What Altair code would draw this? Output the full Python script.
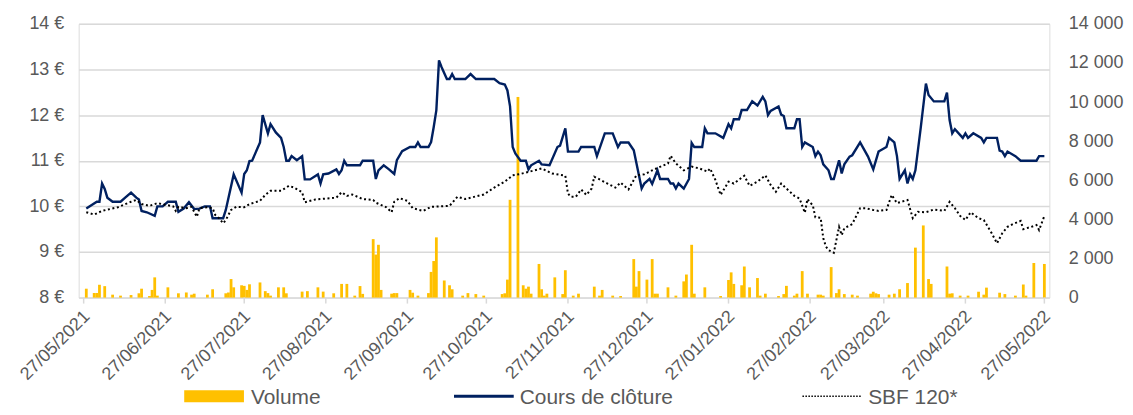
import altair as alt
import pandas as pd

START = "2021-05-27"
END = "2022-05-27"

# Closing price (EUR), day offsets since 27/05/2021
close_day = [1, 5, 6, 7, 8, 9, 11, 14, 16, 18, 20, 21, 22, 24, 27, 28, 30, 32, 35, 36, 38, 40, 42, 44, 46, 48, 49, 52, 53, 54,
             57, 60, 61, 62, 63, 64, 67, 68, 70, 71, 73, 75, 76, 77, 78, 79, 81, 83, 84, 86, 89, 90, 91, 93, 96, 97, 98, 99, 100,
             105, 106, 110, 111, 112, 114, 116, 118, 119, 121, 124, 126, 127, 128, 131, 132, 133, 134, 135, 136, 138, 139, 140,
             141, 145, 147, 149, 156, 158, 160, 161, 162, 163, 164, 166, 168, 169, 170, 173, 174, 177, 180, 181, 183, 184, 188,
             189, 194, 195, 198, 201, 203, 204, 207, 209, 212, 213, 215, 216, 218, 219, 222, 223, 224, 225, 226, 228, 230, 231,
             232, 235, 236, 237, 240, 243, 245, 246, 247, 249, 250, 252, 254, 256, 258, 259, 260, 261, 264, 265, 266, 267, 270,
             271, 272, 273, 274, 277, 278, 279, 280, 281, 283, 284, 285, 287, 288, 289, 291, 292, 295, 298, 300, 302, 305, 306,
             308, 309, 310, 312, 313, 314, 315, 316, 318, 320, 321, 323, 327, 328, 329, 330, 331, 334, 335, 336, 338, 341, 342,
             343, 347, 348, 349, 350, 351, 354, 356, 362, 363, 365]
close_eur = [9.95, 10.10, 10.10, 10.50, 10.38, 10.19, 10.10, 10.10, 10.20, 10.30, 10.19, 10.15, 9.90, 9.87, 9.79, 10.00, 10.00,
             10.10, 10.10, 9.88, 9.95, 10.09, 9.94, 9.95, 10.00, 10.00, 9.74, 9.74, 9.74, 9.92,
             10.70, 10.30, 10.71, 10.79, 10.99, 11.00, 11.40, 12.00, 11.60, 11.80, 11.62, 11.50, 11.30, 11.00, 11.00, 11.10,
             11.01, 11.10, 10.59, 10.59, 10.70, 10.50, 10.70, 10.72, 10.81, 10.71, 10.79, 11.00, 10.90,
             10.90, 11.00, 11.00, 10.60, 10.79, 10.90, 10.81, 10.71, 11.01, 11.21, 11.30, 11.30, 11.40, 11.30, 11.30, 11.41,
             11.74, 12.11, 13.20, 13.05, 12.79, 12.79, 12.90,
             12.79, 12.79, 12.90, 12.79, 12.79, 12.70, 12.67, 12.54, 12.19, 11.30, 11.16, 11.00, 11.00, 10.81, 10.90, 11.00,
             10.92, 10.90, 11.30, 11.33, 11.71, 11.20, 11.20,
             11.30, 11.30, 11.10, 11.60, 11.60, 11.30, 11.40, 11.40, 11.23, 10.39, 10.50, 10.60, 10.49, 10.79, 10.60, 10.60,
             10.50, 10.50, 10.39, 10.50, 10.39, 10.60, 11.39,
             11.30, 11.30, 11.71, 11.60, 11.60, 11.50, 11.80, 11.71, 11.91, 11.91, 12.11, 12.11, 12.30, 12.21, 12.40, 12.30,
             12.00, 12.09, 12.19, 12.01, 11.98, 11.71, 11.71,
             11.91, 11.91, 11.30, 11.40, 11.30, 11.10, 11.20, 11.12, 10.92, 10.79, 10.60, 10.60, 11.01, 10.72, 10.92, 11.09,
             11.12, 11.40, 11.09, 10.81, 11.20, 11.30, 11.50,
             11.40, 11.10, 10.60, 10.79, 10.50, 10.70, 10.60, 10.79, 11.71, 12.69, 12.44, 12.30, 12.30, 12.49, 11.89, 11.60,
             11.69, 11.50, 11.60, 11.50, 11.60, 11.50, 11.40,
             11.50, 11.50, 11.22, 11.20, 11.10, 11.20, 11.10, 11.00, 11.00, 11.10, 11.10]

# SBF 120 (rebased, EUR scale)
sbf_day = [1, 4, 7, 13, 18, 20, 22, 25, 28, 34, 35, 36, 39, 41, 43, 44, 47, 49, 50, 51, 53, 54, 56, 58, 61, 63, 67, 69, 71, 75,
           78, 80, 83, 84, 88, 96, 98, 100, 102, 106, 110, 111, 115, 117, 118, 120, 123, 125, 129, 132, 139, 142, 145, 152,
           156, 160, 163, 166, 174, 178, 183, 184, 185, 187, 189, 191, 193, 194, 199, 202, 204, 207, 210, 213, 216, 220, 222,
           223, 225, 228, 231, 234, 237, 238, 240, 242, 245, 247, 251, 253, 256, 259, 261, 263, 265, 267, 270, 272, 274, 275,
           276, 277, 278, 280, 281, 282, 283, 285, 287, 288, 289, 292, 295, 297, 300, 302, 305, 307, 309, 313, 315, 317, 320,
           323, 327, 329, 331, 333, 335, 337, 340, 342, 345, 347, 349, 351, 353, 356, 357, 360, 362, 363, 365]
sbf_eur = [9.87, 9.82, 9.90, 9.98, 10.10, 10.14, 10.05, 10.01, 10.07, 10.00, 9.90, 9.99, 9.96, 9.99, 9.77, 9.96, 9.98, 9.96,
           9.81, 9.77, 9.63, 9.70, 9.92, 9.99, 9.98, 10.05, 10.12, 10.25, 10.34, 10.34,
           10.45, 10.41, 10.31, 10.09, 10.15, 10.19, 10.31, 10.23, 10.26, 10.16, 10.14, 10.08, 9.98, 9.87, 10.10, 10.18,
           10.12, 9.96, 9.90, 9.99, 10.01, 10.21, 10.16, 10.26,
           10.41, 10.54, 10.68, 10.71, 10.83, 10.72, 10.67, 10.28, 10.21, 10.21, 10.37, 10.25, 10.39, 10.65, 10.50, 10.41,
           10.52, 10.37, 10.68, 10.70, 10.79, 10.89, 10.94,
           11.11, 10.94, 10.79, 10.87, 10.83, 10.76, 10.83, 10.58, 10.25, 10.54, 10.50, 10.67, 10.45, 10.54, 10.68, 10.47,
           10.32, 10.50, 10.39, 10.23, 10.17, 9.86, 10.16,
           10.08, 10.03, 9.76, 9.75, 9.30, 9.12, 9.04, 8.98, 9.55, 9.37, 9.52, 9.61, 9.96, 9.96, 9.92, 9.90, 9.92, 10.25,
           10.07, 10.14, 9.74, 9.88, 9.87,
           9.93, 9.90, 10.10, 9.96, 9.79, 9.70, 9.87, 9.74, 9.70, 9.41, 9.19, 9.41, 9.55, 9.61, 9.68, 9.50, 9.55, 9.59,
           9.48, 9.79]

# Daily volume (shares)
vol_day = [1, 4, 5, 6, 8, 11, 14, 18, 21, 22, 25, 26, 27, 28, 32, 36, 39, 41, 42, 47, 49, 54, 55, 56, 57, 60, 61, 62, 63, 67,
           69, 70, 71, 74, 76, 77, 83, 85, 89, 91, 95, 98, 100, 103, 105, 106, 110, 111, 112, 113, 117, 118, 119, 124, 125,
           127, 131, 132, 133, 134, 137, 139, 140, 144, 146, 149, 152, 159, 160, 161, 162, 165, 167, 168, 169, 170, 173, 174,
           175, 176, 179, 182, 183, 186, 188, 194, 196, 197, 201, 204, 209, 210, 211, 214, 216, 217, 218, 222, 225, 228, 229,
           231, 232, 236, 242, 245, 246, 247, 250, 251, 253, 256, 257, 259, 264, 266, 267, 270, 271, 273, 275, 279, 280, 281,
           284, 286, 287, 289, 292, 294, 299, 300, 301, 302, 306, 308, 310, 313, 316, 319, 321, 322, 328, 329, 330, 333, 336,
           340, 342, 343, 348, 350, 354, 357, 358, 361, 365]
vol_qty = [455, 236, 236, 656, 586, 150, 100, 130, 220, 455, 80, 393, 1035, 100, 525, 220, 262, 150, 200, 150, 426, 220, 260,
           948, 525, 630, 600, 393, 680, 775,
           330, 230, 100, 525, 525, 220, 306, 330, 525, 306, 220, 700, 700, 100, 590, 190, 2990, 2200, 2700, 393, 200, 230,
           230, 393, 250,
           100, 230, 1313, 1870, 3080, 875, 630, 426, 100, 230, 180, 100, 180, 220, 920, 5000, 10260, 630, 455, 560, 200,
           1720, 426,
           100, 200, 1035, 180, 1400, 100, 200, 560, 100, 393, 100, 80, 1970, 560, 1355, 920, 1970, 200, 200, 525, 100, 830,
           1180,
           2700, 200, 525, 80, 900, 1290, 700, 630, 1590, 525, 1000, 100, 200, 80, 180, 600, 100, 200, 1355, 200, 150, 150,
           100,
           1560, 230, 426, 180, 150, 100, 200, 300, 220, 180, 150, 200, 426, 744, 2555, 3690, 948, 700, 1590, 200, 220, 100,
           100,
           300, 150, 510, 250, 180, 100, 670, 100, 1770, 1720]

tick_dates = ["2021-05-27", "2021-06-27", "2021-07-27", "2021-08-27", "2021-09-27", "2021-10-27", "2021-11-27",
              "2021-12-27", "2022-01-27", "2022-02-27", "2022-03-27", "2022-04-27", "2022-05-27"]
tick_labels = ["27/05/2021", "27/06/2021", "27/07/2021", "27/08/2021", "27/09/2021", "27/10/2021", "27/11/2021",
               "27/12/2021", "27/01/2022", "27/02/2022", "27/03/2022", "27/04/2022", "27/05/2022"]
left_ticks = [8, 9, 10, 11, 12, 13, 14]
right_ticks = [0, 2000, 4000, 6000, 8000, 10000, 12000, 14000]
legend_labels = ["Volume", "Cours de clôture", "SBF 120*"]

GOLD = "#FFC000"
NAVY = "#002060"
GREY_TXT = "#595959"
GRID = "#D9D9D9"
FONT = "Liberation Sans"


def to_dates(days):
    return [(pd.Timestamp(START) + pd.Timedelta(days=d)).strftime("%Y-%m-%d") for d in days]


def ms(d):
    return int(pd.Timestamp(d, tz="UTC").timestamp() * 1000)


close_df = pd.DataFrame({"date": to_dates(close_day), "price": close_eur})
sbf_df = pd.DataFrame({"date": to_dates(sbf_day), "price": sbf_eur})
vol_df = pd.DataFrame({"date": to_dates(vol_day), "volume": vol_qty})
ticks_df = pd.DataFrame({"date": tick_dates, "label": tick_labels})

W, H = 975, 275

xscale = alt.Scale(type="utc", domain=[ms(START), ms(END)], nice=False)
X = alt.X("date:T", scale=xscale, axis=None)

right_label = "datum.value >= 1000 ? format(floor(datum.value / 1000), 'd') + ' ' + format(datum.value % 1000, '03d') : format(datum.value, 'd')"

bars = alt.Chart(vol_df).mark_bar(size=2.8, color=GOLD).encode(
    x=X,
    y=alt.Y("volume:Q", scale=alt.Scale(domain=[0, 14000], nice=False, zero=True),
            axis=alt.Axis(orient="right", values=right_ticks, grid=False, ticks=False, domain=False,
                          labelExpr=right_label, labelPadding=19, labelFontSize=18, labelColor=GREY_TXT,
                          labelFont=FONT, title=None)),
)

yscale = alt.Scale(domain=[8, 14], nice=False, zero=False)

close = alt.Chart(close_df).mark_line(color=NAVY, strokeWidth=2.4).encode(
    x=X,
    y=alt.Y("price:Q", scale=yscale,
            axis=alt.Axis(orient="left", values=left_ticks, grid=True, gridColor=GRID, gridWidth=1.5,
                          ticks=False, domain=False, labelExpr="datum.value + ' €'", labelPadding=15,
                          labelFontSize=18, labelColor=GREY_TXT, labelFont=FONT, title=None)),
)

sbf = alt.Chart(sbf_df).mark_line(color="#000000", strokeWidth=2, strokeDash=[2, 2.6]).encode(
    x=X,
    y=alt.Y("price:Q", scale=yscale, axis=None),
)

# date axis: tick marks and rotated labels drawn through the shared time scale
x_ticks = alt.Chart(ticks_df).mark_rule(color=GRID, strokeWidth=1.5).encode(
    x=X, y=alt.value(H), y2=alt.value(H + 6))
x_labels = alt.Chart(ticks_df).mark_text(
    angle=315, align="right", baseline="middle", fontSize=18, font=FONT, color=GREY_TXT, dy=5).encode(
    x=X, y=alt.value(H + 13), text="label:N")

one = pd.DataFrame({"k": [0]})
LY = 374  # legend centre, px below the plot top
leg_rect = alt.Chart(one).mark_rect(color=GOLD).encode(
    x=alt.value(106), x2=alt.value(166), y=alt.value(LY - 6), y2=alt.value(LY + 6))
leg_line = alt.Chart(one).mark_rule(color=NAVY, strokeWidth=3).encode(
    x=alt.value(377), x2=alt.value(437), y=alt.value(LY))
leg_dot = alt.Chart(one).mark_rule(color="#000000", strokeWidth=1.5, strokeDash=[1.5, 1.5]).encode(
    x=alt.value(727), x2=alt.value(787), y=alt.value(LY))

leg_texts = [
    alt.Chart(one).mark_text(align="left", baseline="alphabetic", fontSize=21, font=FONT, color=GREY_TXT,
                             text=lab).encode(x=alt.value(px), y=alt.value(LY + 7.5))
    for lab, px in zip(legend_labels, [173, 443, 793])
]

chart = alt.layer(bars, close, sbf, x_ticks, x_labels, leg_rect, leg_line, leg_dot, *leg_texts).resolve_scale(
    y="independent"
).properties(
    width=W, height=H,
    autosize=alt.AutoSizeParams(type="none"),
    padding={"left": 71, "top": 15, "right": 76, "bottom": 109},
).configure_view(stroke=None).configure(background="white")

chart.save("out.html", embed_options={"renderer": "svg", "actions": False})
